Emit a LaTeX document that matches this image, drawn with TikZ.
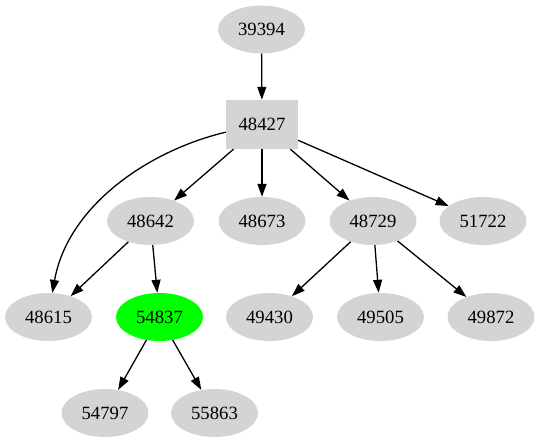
\documentclass[tikz,border=0pt]{standalone}
\usepackage{fontspec}
\setmainfont{Liberation Serif}
\usetikzlibrary{shapes.geometric,arrows.meta}

\tikzset{
  vert/.style={ellipse,fill=black!17,minimum width=87pt,minimum height=48pt,inner sep=0pt,
    font=\fontsize{18.7}{22}\selectfont},
  hub/.style={rectangle,fill=black!17,minimum width=72pt,minimum height=49pt,inner sep=0pt,
    font=\fontsize{18.7}{22}\selectfont},
  mark/.style={fill=green},
  link/.style={draw=black,line width=1.3pt,-{Triangle[length=13pt,width=9pt]}}
}

\begin{document}
\begin{tikzpicture}[x=1pt,y=-1pt]
\useasboundingbox (0,0) rectangle (540,443);
% nodes
\node[vert] (n39394) at (261.5,29.5) {39394};
\node[hub]  (n48427) at (262,124.5) {48427};
\node[vert] (n48642) at (150.5,221) {48642};
\node[vert] (n48673) at (262,221) {48673};
\node[vert] (n48729) at (373,221) {48729};
\node[vert] (n51722) at (483,221) {51722};
\node[vert] (n48615) at (48.5,317) {48615};
\node[vert,fill=green] (n54837) at (159.5,317) {54837};
\node[vert] (n49430) at (269.5,317) {49430};
\node[vert] (n49505) at (380.5,317) {49505};
\node[vert] (n49872) at (491,317) {49872};
\node[vert] (n54797) at (105,413) {54797};
\node[vert] (n55863) at (214.5,413) {55863};
% edges
\draw[link] (n39394) -- (n48427);
\draw[link] (n48427.192) .. controls (150,150) and (68,205) .. (n48615.81);
\draw[link] (n48427) -- (n48642);
\draw[link] (n48427) -- (n48673);
\draw[link] (n48427) -- (n48729);
\draw[link] (n48427) -- (n51722);
\draw[link] (n48642) -- (n48615);
\draw[link] (n48642) -- (n54837);
\draw[link] (n48729) -- (n49430);
\draw[link] (n48729) -- (n49505);
\draw[link] (n48729) -- (n49872);
\draw[link] (n54837) -- (n54797);
\draw[link] (n54837) -- (n55863);
\end{tikzpicture}
\end{document}
